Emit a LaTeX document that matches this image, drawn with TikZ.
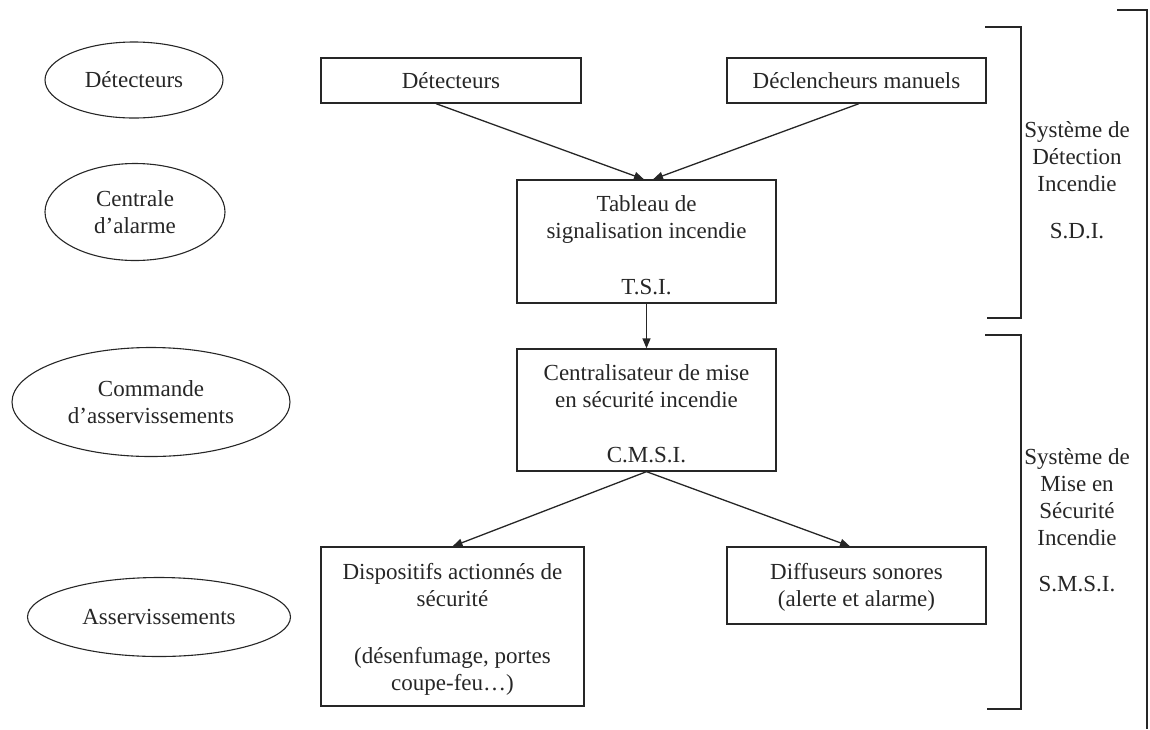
\documentclass[tikz,border=0pt]{standalone}
\usepackage{fontspec}
\setmainfont{Liberation Serif}
\usetikzlibrary{shapes.geometric,arrows.meta}
\definecolor{ink}{HTML}{262626}
% raises the top of a first line so the text block sits a little lower in its box
\newcommand\firstline[1]{\rule{0pt}{#1}}
\begin{document}
\begin{tikzpicture}[x=1pt,y=-1pt,
  every node/.style={font=\fontsize{23}{27}\selectfont, text=ink},
  box/.style={draw=ink, line width=1.3pt, inner sep=0pt, align=center},
  oval/.style={ellipse, draw=ink, line width=1.1pt, inner sep=0pt, align=center},
  arr/.style={draw=ink, line width=1.3pt, -{Triangle[length=10pt,width=8pt]}},
  brk/.style={draw=ink, line width=1.2pt}]
\path[use as bounding box] (0,0) rectangle (1150,729);

% functional levels (left column)
\node[oval, minimum width=178pt, minimum height=76pt] (e1) at (134,80) {Détecteurs};
\node[oval, minimum width=180pt, minimum height=97pt] (e2) at (135,212) {Centrale\\d’alarme};
\node[oval, minimum width=278pt, minimum height=109pt] (e3) at (151,402) {Commande\\d’asservissements};
\node[oval, minimum width=263pt, minimum height=79pt] (e4) at (159,617) {Asservissements};

% equipment boxes
\node[box, minimum width=260pt, minimum height=45pt] (b1) at (451,80.5) {Détecteurs};
\node[box, minimum width=259pt, minimum height=45pt] (b2) at (856.5,80.5) {Déclencheurs manuels};
\node[box, minimum width=259pt, minimum height=123pt] (tsi) at (646.5,241.5)
  {\firstline{24pt}Tableau de\\signalisation incendie\\[29pt]T.S.I.};
\node[box, minimum width=259pt, minimum height=122pt] (cmsi) at (646.5,410)
  {\firstline{24pt}Centralisateur de mise\\en sécurité incendie\\[28pt]C.M.S.I.};
\node[box, minimum width=263pt, minimum height=159pt] (disp) at (452.5,626.5)
  {\firstline{21.5pt}Dispositifs actionnés de\\sécurité\\[30pt](désenfumage, portes\\coupe-feu…)};
\node[box, minimum width=259pt, minimum height=77pt] (diff) at (856.5,585.5)
  {\firstline{19.5pt}Diffuseurs sonores\\(alerte et alarme)};

% signal flow
\draw[arr] ([xshift=-15pt]b1.south) -- ([xshift=-2.5pt]tsi.north);
\draw[arr] ([xshift=2.5pt]b2.south) -- ([xshift=6.5pt]tsi.north);
\draw[arr] (tsi.south) -- (cmsi.north);
\draw[arr] (cmsi.south) -- (disp.north);
\draw[arr] (cmsi.south) -- ([xshift=-6.5pt]diff.north);

% system brackets
\coordinate (s1a) at (985,27);  \coordinate (s1b) at (1021,27);
\coordinate (s1c) at (1021,318); \coordinate (s1d) at (987,318);
\draw[brk] (s1a) -- (s1b) -- (s1c) -- (s1d);
\coordinate (s2a) at (985,335);  \coordinate (s2b) at (1021,335);
\coordinate (s2c) at (1021,709); \coordinate (s2d) at (987,709);
\draw[brk] (s2a) -- (s2b) -- (s2c) -- (s2d);
\coordinate (s3a) at (1117,10); \coordinate (s3b) at (1147,10); \coordinate (s3c) at (1147,729);
\draw[brk] (s3a) -- (s3b) -- (s3c);

\node[align=center] (sdi) at (1077,180) {Système de\\Détection\\Incendie\\[20pt]S.D.I.};
\node[align=center] (smsi) at (1077,520.5) {Système de\\Mise en\\Sécurité\\Incendie\\[19pt]S.M.S.I.};
\end{tikzpicture}
\end{document}
